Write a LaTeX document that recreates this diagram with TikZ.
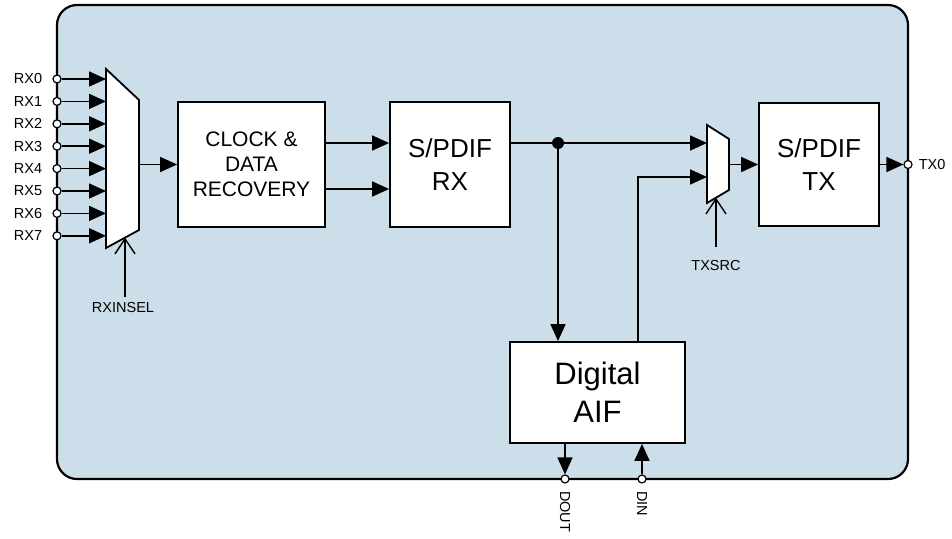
\documentclass[tikz,border=0pt]{standalone}
\usepackage{fontspec}
\setmainfont{Liberation Sans}
\usetikzlibrary{arrows.meta}
\definecolor{panel}{RGB}{204,222,233}
\tikzset{
  block/.style={draw, fill=white, line width=1.8pt, align=center, inner sep=0pt},
  pin/.style={circle, draw, fill=white, inner sep=0pt, minimum size=8pt, line width=1.2pt},
  dot/.style={circle, fill=black, inner sep=0pt, minimum size=12pt},
  sig/.style={line width=1.7pt, -{Triangle[length=17pt,width=15pt]}},
  sel/.style={line width=1.4pt, -{Straight Barb[length=15pt,width=20pt]}},
  lbl/.style={font=\fontsize{14.5}{17}\selectfont},
}
\begin{document}
\begin{tikzpicture}[x=1pt,y=-1pt]
\useasboundingbox (0,0) rectangle (952,538);
% device outline
\draw[fill=panel, line width=2.2pt, rounded corners=20pt] (57,5) rectangle (908,479);
% rx pins and input mux
\foreach \i in {0,...,7}
  \node[pin, label={[lbl, inner sep=2pt, label distance=8pt]left:RX\i}] (rx\i) at (57,79+22.4*\i) {};
\coordinate (rxm1) at (106,69);
\coordinate (rxm2) at (139,100);
\coordinate (rxm3) at (139,230);
\coordinate (rxm4) at (106,248);
\draw[fill=white, line width=1.8pt] (rxm1) -- (rxm2) -- (rxm3) -- (rxm4) -- cycle;
\foreach \i in {0,...,7}
  \draw[sig] (rx\i) -- (rx\i -| rxm1);
\coordinate (rxmo) at (139,164.5);
\coordinate (rxsel) at (125,297);
\draw[sel] (rxsel) -- (125,237.6);
\node[lbl] (rxsellbl) at (123,308) {RXINSEL};
% blocks
\node[block, minimum width=147pt, minimum height=125pt, font=\fontsize{21}{25}\selectfont] (cdr) at (251.5,164.5) {CLOCK \&\\DATA\\RECOVERY};
\node[block, minimum width=120pt, minimum height=125pt, font=\fontsize{26}{33}\selectfont] (srx) at (450,164.5) {S/PDIF\\RX};
\node[block, minimum width=120pt, minimum height=123pt, font=\fontsize{26}{33}\selectfont] (stx) at (819,164.5) {S/PDIF\\TX};
\node[block, minimum width=175pt, minimum height=101pt, font=\fontsize{31}{38}\selectfont] (aif) at (597.5,392.5) {Digital\\AIF};
\draw[sig] (rxmo) -- (cdr.west);
\draw[sig] (cdr.east |- 0,143) -- (srx.west |- 0,143);
\draw[sig] (cdr.east |- 0,189) -- (srx.west |- 0,189);
% tx source mux
\coordinate (txm1) at (707,125);
\coordinate (txm2) at (729,139);
\coordinate (txm3) at (729,190);
\coordinate (txm4) at (707,203);
\draw[fill=white, line width=1.8pt] (txm1) -- (txm2) -- (txm3) -- (txm4) -- cycle;
\coordinate (txmi1) at (707,143);
\coordinate (txmi2) at (707,177);
\coordinate (txmo) at (729,164.5);
\node[dot] (j) at (558,143) {};
\draw[line width=1.7pt] (srx.east |- j) -- (j);
\draw[sig] (j) -- (txmi1);
\draw[sig] (j) -- (j |- aif.north);
\draw[sig] (aif.north -| 638,0) |- (txmi2);
\draw[sig] (txmo) -- (stx.west);
\coordinate (txsel) at (716,247);
\draw[sel] (txsel) -- (716,197.7);
\node[lbl] (txsellbl) at (716,266) {TXSRC};
% output and aif pins
\node[pin, label={[lbl, inner sep=2pt, label distance=4pt]right:TX0}] (tx0) at (908,164.5) {};
\draw[sig] (stx.east) -- (tx0);
\node[pin] (dout) at (565,479) {};
\node[pin] (din) at (642,479) {};
\draw[sig] (aif.south -| dout) -- (dout);
\draw[sig] (din) -- (aif.south -| din);
\node[lbl, rotate=-90, anchor=west] (doutlbl) at ([yshift=-4pt]dout.south) {DOUT};
\node[lbl, rotate=-90, anchor=west] (dinlbl) at ([yshift=-4pt]din.south) {DIN};
\end{tikzpicture}
\end{document}
